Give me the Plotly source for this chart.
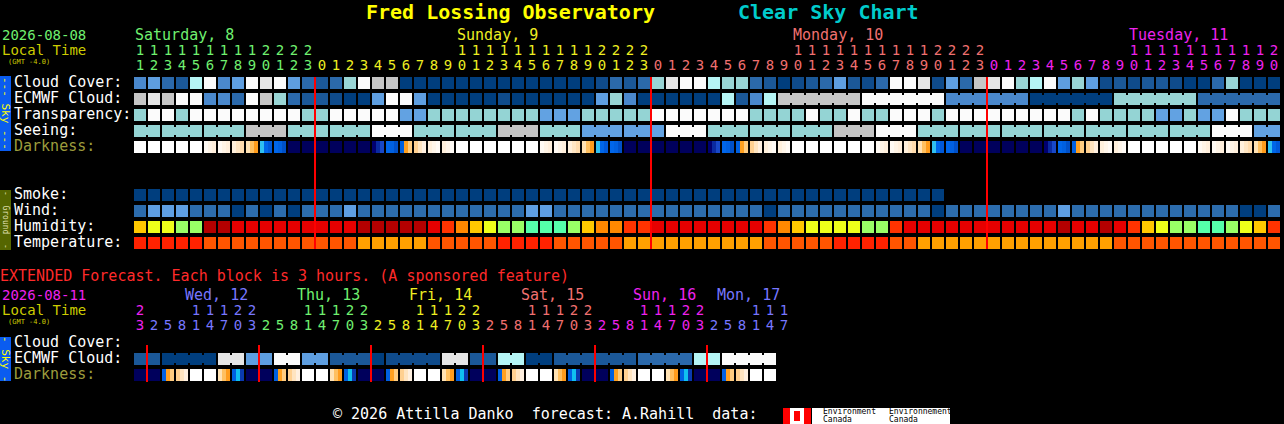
import plotly.graph_objects as go

W, H = 1284, 424
MONO = "DejaVu Sans Mono"

# ---------------------------------------------------------------- main chart
# one block per hour, Saturday 11h .. Tuesday 20h
day_names = ["Saturday, 8", "Sunday, 9", "Monday, 10", "Tuesday, 11"]
day_hours = [list(range(11, 24)), list(range(24)), list(range(24)), list(range(21))]

# cloud cover in tenths of sky covered
cloud_cover = [4, 5, 3, 2, 7, 10, 4, 5, 10, 9, 10, 5, 3, 2,
               3, 6, 10, 8, 8, 0, 0,
               0, 0, 0, 0, 0, 0, 0, 0, 0, 0, 0, 0,
               1, 3, 2, 3,
               6, 9, 10, 10, 7, 6, 6, 3, 2, 0, 1, 2, 3, 5,
               2, 1, 3, 10, 10, 9, 1, 5, 3, 8, 9, 10, 6, 7, 10, 5,
               6, 5, 1, 2, 1, 2, 2, 1, 0, 0, 3, 6, 0, 0, 0]

# ECMWF cloud, hourly first, then one value per 3 hours (from Mon 9h)
ecmwf_hourly = [8, 9, 8, 10, 10, 4, 4, 3, 10, 8, 6, 3, 2, 2,
                1, 0, 0, 5, 10, 10, 5,
                0, 0, 0, 0, 0, 1, 0, 0, 0, 0, 0, 0,
                5, 6, 4, 0, 0, 0, 0, 0, 0, 7, 2, 4, 7]
ecmwf_3h = [8, 8, 10, 10, 4, 4, 0, 0, 6, 6, 3, 3]

# transparency: 1 poor, 2 below average, 3 average, 4 above average, 5 transparent
transparency = [2, 1, 1, 2, 1, 1, 1, 1, 1, 1, 1, 1, 2, 2,
                1, 1, 1, 1, 1, 3, 3,
                2, 2, 2, 2, 2, 2, 2, 2,
                3, 3, 3,
                2, 2, 2, 2, 2,
                1, 1, 1, 1, 1, 1, 1,
                2, 2, 2, 2, 1, 2, 2, 1, 2, 2, 1, 1, 1, 2,
                1, 1, 1, 1, 1, 1, 1, 1, 1,
                2, 1, 2, 2, 2, 2, 3, 3, 2, 3, 3, 1, 2, 2, 2]

# seeing per 3-hour block: 0 too cloudy, 1 bad .. 5 excellent
seeing_3h = [2, 2, 2, 0, 2, 2, 1, 2, 2, 0, 2, 3, 3, 1,
             2, 2, 2, 0, 1, 2, 2, 2, 2, 2, 2, 2, 1, 3]

# darkness: D day, c/e cream, p peach, o sunset, s dusk, b blue,
# n night, g pre-dawn, r sunrise, q after sunrise
darkness = ("DDDDDccposbnnnnnngbrqee"
            "DDDDDDccposbnnnnnngbrqee"
            "DDDDDDccposbnnnnnngbrqee"
            "DDDDDcccpos")

# smoke: 0 = no smoke
smoke = [0, 0, 0, 0, 0, 0, 0, 0, 0, 0, 0, 0, 0, 0, 0, 0, 0, 0, 0, 0,
         0, 0, 0, 0, 0, 0, 0, 0, 0, 0, 0, 0, 0, 0, 0, 0, 0, 0, 0, 0,
         0, 0, 0, 0, 0, 0, 0, 0, 0, 0, 0, 0, 0, 0, 0, 0, 0, 0]

# wind: 0 = 0-5 mph, 1 = 6-11 mph, 2 = 12-16 mph
wind = [1, 2, 2, 2, 1, 1, 1, 0, 1, 0, 1, 0, 1, 1, 1, 2, 1, 1, 1, 1, 1,
        1, 1, 1, 1, 1, 1, 1, 2, 2, 1, 1, 1, 1, 1, 1, 1, 1, 1, 1, 1,
        1, 1, 1, 1, 0, 1, 1, 1, 1, 1,
        1, 1, 1, 1, 1, 1, 0, 1, 1, 1, 1, 1, 1, 1, 1, 2,
        1, 1, 1, 1, 1, 1, 1, 1, 1, 1, 1, 1, 0, 0, 1]

# relative humidity, %
humidity = [73, 68, 68, 63, 63, 93, 93, 88, 88, 88, 88, 88, 88, 88, 88, 88,
            93, 93, 93, 93, 93,
            88, 83, 78, 73, 68, 63, 63, 58, 58, 58, 63, 73, 78, 78, 83,
            83, 88, 88, 88, 88, 88, 88, 88, 88, 83, 78, 73, 68, 68, 68,
            68, 63, 63, 83, 88, 88, 88, 88, 88, 88, 88, 88, 88, 88, 88,
            93, 88, 88, 93, 88, 83, 73, 68, 63, 63, 58, 58, 63, 68, 73, 83]

# temperature, deg C
temperature = [27, 27, 27, 27, 27, 24, 24, 24, 24, 24, 24, 24, 24, 24, 24, 24,
               21, 21, 21, 21, 21,
               24, 24, 24, 24, 24, 27, 27, 27, 27, 24, 24, 24, 24, 24,
               21, 21, 21, 21, 21, 21, 21, 21, 21, 21, 24, 24, 24, 24, 24, 27,
               27, 27, 27, 24, 24, 21, 21, 21, 21, 21, 21, 21, 21, 21, 21,
               21, 21, 21, 21, 24, 24, 24, 24, 24, 24, 24, 24, 24, 24, 24, 24]

# ------------------------------------------------------- extended forecast
ext_day_names = ["Wed, 12", "Thu, 13", "Fri, 14", "Sat, 15", "Sun, 16", "Mon, 17"]
ext_day_hours = [[23],
                 [2, 5, 8, 11, 14, 17, 20, 23],
                 [2, 5, 8, 11, 14, 17, 20, 23],
                 [2, 5, 8, 11, 14, 17, 20, 23],
                 [2, 5, 8, 11, 14, 17, 20, 23],
                 [2, 5, 8, 11, 14, 17, 20, 23],
                 [2, 5, 8, 11, 14, 17]]
ext_ecmwf = [2, 2, 0, 0, 0, 0, 9, 9, 5, 5, 10, 10, 5, 5, 2, 2, 2, 0,
             1, 1, 1, 1, 9, 9, 2, 2, 7, 7, 0, 0, 2, 2, 2, 2, 2, 2,
             3, 3, 3, 3, 7, 7, 10, 10, 10, 10]
ext_darkness = "nnrqDDoSnnrqDDoSnnrqDDoSnnrqDDoSnnrqDDoSnnrqDD"

# ------------------------------------------------------------------ colours
CLOUD = ["#003e7e", "#0f4b8b", "#1b5898", "#2b69ab", "#4a88cc", "#5e9ee0",
         "#99d5d5", "#b5f5f5", "#c6c6c6", "#e6e6e6", "#fbfbfb"]
QUALITY = {0: "#c4c4c4", 1: "#fbfbfb", 2: "#94d4d4", 3: "#62a2e2",
           4: "#2c6cad", 5: "#003e7e"}
WIND = ["#003e7e", "#2c6cad", "#5e9ee2"]
SMOKE = ["#003e7e"]
DARK = {
    "D": ["#ffffff", "#ffffff", "#ffffff"],
    "c": ["#fffaf4", "#fff4e6", "#ffefdc"],
    "e": ["#fff0dc", "#fff6ea", "#fffbf6"],
    "p": ["#fff0dc", "#ffe6c4", "#ffdcae"],
    "o": ["#ffe2b4", "#ffc060", "#ff9c1c"],
    "s": ["#30c0f0", "#0066e8", "#0058d8"],
    "S": ["#0060e0", "#10c0f0", "#0a3ab0"],
    "b": ["#0066ea", "#0060e0", "#0050c8"],
    "n": ["#00005c", "#00005c", "#00005c"],
    "g": ["#000070", "#0a2aa0", "#1848c8"],
    "r": ["#0060e0", "#ffa020", "#ffcc80"],
    "q": ["#ffd090", "#ffe4c0", "#fff0e0"],
}
DAY_COLORS = ["#70f070", "#eeee22", "#f07070", "#ee22ee", "#7777ff"]


def hum_color(h):
    for top, col in [(60, "#55ffaa"), (65, "#99ff66"), (70, "#eeff1a"),
                     (75, "#ffc800"), (80, "#ff8800"), (85, "#ff3300"),
                     (90, "#e60000")]:
        if h < top:
            return col
    return "#b40000"


def temp_color(t):
    if t < 22:
        return "#ffa000"
    if t < 25:
        return "#ff5500"
    return "#ff2200"


def heat(colors, x, y, yaxis, xgap=0, ygap=0):
    pal = sorted({c for row in colors for c in row if c})
    idx = {c: i for i, c in enumerate(pal)}
    z = [[idx[c] if c else None for c in row] for row in colors]
    n = max(len(pal) - 1, 1)
    scale = [[i / n, c] for i, c in enumerate(pal)]
    if len(pal) == 1:
        scale = [[0, pal[0]], [1, pal[0]]]
    return go.Heatmap(z=z, x=x, y=y, colorscale=scale, zmin=0, zmax=n,
                      showscale=False, xgap=xgap, ygap=ygap,
                      hoverinfo="skip", yaxis=yaxis)


def sliced_heat(colors_per_block, row, yaxis):
    # one row of blocks, each block given as a list of slice colours,
    # black gap between blocks
    edges, zc = [-6 / 14], []
    for c, slices in enumerate(colors_per_block):
        k = len(slices)
        edges += [c - 6 / 14 + 12 / 14 * (i + 1) / k for i in range(k)]
        zc += slices
        if c < len(colors_per_block) - 1:
            edges.append(c + 8 / 14)
            zc.append(None)
    return heat([zc], edges, [row - 6 / 16, row + 6 / 16], yaxis)


def connectors(values, row, pairs_ok, colmap, yaxis):
    # little bridges between merged blocks
    segs = {}
    c = 0
    while c < len(values):
        e = c
        while e + 1 < len(values) and values[e + 1] == values[c] and pairs_ok(e):
            e += 1
        if e > c:
            xs, ys = segs.setdefault(colmap[values[c]], ([], []))
            xs += [c, e, None]
            ys += [row, row, None]
        c = e + 1
    return [go.Scatter(x=xs, y=ys, mode="lines", yaxis=yaxis,
                       line=dict(color=col, width=8), hoverinfo="skip")
            for col, (xs, ys) in segs.items()]


# ------------------------------------------------------------ derived data
hours = [h for d in day_hours for h in d]
day_of = [i for i, d in enumerate(day_hours) for _ in d]
ncol = len(hours)
cols = list(range(ncol))

ecmwf = ecmwf_hourly + [v for v in ecmwf_3h for _ in range(3)]
merge_from = len(ecmwf_hourly)

group_of, g = [], 0
for c, h in enumerate(hours):
    if c > 0 and h % 3 == 1:
        g += 1
    group_of.append(g)
seeing = [seeing_3h[k] for k in group_of]

ext_hours = [h for d in ext_day_hours for h in d]
ext_day_of = [i for i, d in enumerate(ext_day_hours) for _ in d]
ext_cols = list(range(len(ext_hours)))
n_ext = len(ext_ecmwf)


def main_y(p):
    return (p - 83) / 16


def ext_y(p):
    return (p - 343) / 16


blank = [None] * ncol
grid = [
    [CLOUD[v] for v in cloud_cover],
    [CLOUD[v] for v in ecmwf],
    [QUALITY[v] for v in transparency],
    [QUALITY[v] for v in seeing],
    blank, blank, blank,
    [SMOKE[v] for v in smoke] + [None] * (ncol - len(smoke)),
    [WIND[v] for v in wind],
    [hum_color(v) for v in humidity],
    [temp_color(v) for v in temperature],
]

fig = go.Figure()
fig.add_trace(heat(grid, cols, list(range(len(grid))), "y", xgap=2, ygap=4))
fig.add_trace(sliced_heat([DARK[k] for k in darkness], 4, "y"))
fig.add_trace(sliced_heat([[CLOUD[v]] for v in ext_ecmwf], 1, "y2"))
fig.add_trace(sliced_heat([DARK[k] for k in ext_darkness[:n_ext]], 2, "y2"))

for tr in connectors(ecmwf, 1, lambda e: e >= merge_from, CLOUD, "y"):
    fig.add_trace(tr)
for tr in connectors(seeing, 3, lambda e: group_of[e] == group_of[e + 1],
                     QUALITY, "y"):
    fig.add_trace(tr)
for tr in connectors(ext_ecmwf, 1, lambda e: True, CLOUD, "y2"):
    fig.add_trace(tr)

# day boundaries
mx, my = [], []
for c, h in enumerate(hours):
    if c > 0 and h == 0:
        mx += [c - 0.5, c - 0.5, None]
        my += [main_y(77), main_y(249), None]
fig.add_trace(go.Scatter(x=mx, y=my, mode="lines", yaxis="y",
                         line=dict(color="#ff0000", width=2), hoverinfo="skip"))
ex, ey = [], []
for c in ext_cols:
    if c > 0 and ext_day_of[c] != ext_day_of[c - 1]:
        ex += [c - 0.5, c - 0.5, None]
        ey += [ext_y(345), ext_y(382), None]
fig.add_trace(go.Scatter(x=ex, y=ey, mode="lines", yaxis="y2",
                         line=dict(color="#ff0000", width=2), hoverinfo="skip"))

# hour digits
main_col_colors = [DAY_COLORS[d % 5] for d in day_of]
ext_col_colors = [DAY_COLORS[(d + 3) % 5] for d in ext_day_of]
for txt, yy, ax, xs, colors in [
    ([str(h // 10) if h >= 10 else "" for h in hours], main_y(51), "y", cols, main_col_colors),
    ([str(h % 10) for h in hours], main_y(66), "y", cols, main_col_colors),
    ([str(h // 10) if h >= 10 else "" for h in ext_hours], ext_y(311), "y2", ext_cols, ext_col_colors),
    ([str(h % 10) for h in ext_hours], ext_y(326), "y2", ext_cols, ext_col_colors),
]:
    fig.add_trace(go.Scatter(x=xs, y=[yy] * len(xs), text=txt, mode="text",
                             yaxis=ax, textposition="middle center",
                             textfont=dict(family=MONO, size=14, color=colors),
                             hoverinfo="skip"))


def label(text, x, y, color, size=15, anchor="left", **kw):
    return dict(text=text, x=x / W, y=1 - y / H, xref="paper", yref="paper",
                xanchor=anchor, yanchor="middle", showarrow=False,
                borderpad=0, borderwidth=0,
                font=dict(family=MONO, size=size, color=color), **kw)


ann = [
    label("<b>Fred Lossing Observatory</b>", 366, 12, "#ffff00", size=20),
    label("<b>Clear Sky Chart</b>", 738, 12, "#00cccc", size=20),
    label("2026-08-08", 2, 35, DAY_COLORS[0], size=14),
    label("Local Time", 2, 50, "#cccc00", size=14),
    label("(GMT -4.0)", 8, 62, "#cccc00", size=7),
    label("EXTENDED Forecast. Each block is 3 hours. (A sponsored feature)",
          0, 276, "#ff2a2a"),
    label("2026-08-11", 2, 295, DAY_COLORS[3], size=14),
    label("Local Time", 2, 310, "#cccc00", size=14),
    label("(GMT -4.0)", 8, 322, "#cccc00", size=7),
    label("©\u00a02026\u00a0Attilla\u00a0Danko\u00a0\u00a0forecast:\u00a0A.Rahill\u00a0\u00a0data:",
          333, 414, "#ffffff"),
    label("Environment", 823, 411, "#000000", size=8),
    label("Canada", 823, 419, "#000000", size=8),
    label("Environnement", 889, 411, "#000000", size=8),
    label("Canada", 889, 419, "#000000", size=8),
    label("--- Sky ---", 6, 113, "#ffff00", size=11, anchor="center", textangle=90),
    label("-\u00a0\u00a0Ground\u00a0\u00a0-", 6, 220, "#e0e0b0", size=8, anchor="center", textangle=90),
    label("- Sky -", 6, 359, "#ffff00", size=11, anchor="center", textangle=90),
]
for name, y in [("Cloud Cover:", 82), ("ECMWF Cloud:", 98), ("Transparency:", 114),
                ("Seeing:", 130), ("Smoke:", 194), ("Wind:", 210),
                ("Humidity:", 226), ("Temperature:", 242),
                ("Cloud Cover:", 342), ("ECMWF Cloud:", 358)]:
    ann.append(label(name, 14, y, "#ffffff"))
ann.append(label("Darkness:", 14, 146, "#9c9c3c"))
ann.append(label("Darkness:", 14, 374, "#9c9c3c"))

# day names: main at the 10h block, extended a little inside each day
for d, name in enumerate(day_names):
    c = next((k for k, h in enumerate(hours) if day_of[k] == d and h == 10),
             day_of.index(d))
    ann.append(dict(text=name, x=c - 6 / 14 + 1 / 14, y=1 - 35 / H, xref="x",
                    yref="paper", xanchor="left", yanchor="middle",
                    showarrow=False, borderpad=0, borderwidth=0,
                    font=dict(family=MONO, size=15, color=DAY_COLORS[d % 5])))
for d, name in enumerate(ext_day_names, start=1):
    c = ext_day_of.index(d)
    left = min(c - 6 / 14 + 37 / 14, n_ext - 1 + 6 / 14 - 9 * len(name) / 14 + 4 / 14)
    ann.append(dict(text=name, x=left, y=1 - 295 / H, xref="x", yref="paper",
                    xanchor="left", yanchor="middle", showarrow=False,
                    borderpad=0, borderwidth=0,
                    font=dict(family=MONO, size=15, color=DAY_COLORS[(d + 3) % 5])))


def box(x0, x1, y0, y1, color):
    return dict(type="rect", xref="paper", yref="paper", x0=x0 / W, x1=x1 / W,
                y0=1 - y1 / H, y1=1 - y0 / H, fillcolor=color, line=dict(width=0),
                layer="below")


shapes = [
    box(0, 11, 76, 151, "#0a5cf0"),
    box(0, 11, 190, 250, "#556600"),
    box(0, 11, 337, 381, "#0a5cf0"),
    box(783, 811, 408, 424, "#ffffff"),
    box(783, 790, 408, 424, "#ff0000"),
    box(804, 811, 408, 424, "#ff0000"),
    box(794, 800, 411, 421, "#ff0000"),
    box(812, 950, 408, 424, "#ffffff"),
]

fig.update_layout(
    width=W, height=H, margin=dict(l=0, r=0, t=0, b=0),
    paper_bgcolor="#000000", plot_bgcolor="#000000",
    showlegend=False, annotations=ann, shapes=shapes,
    xaxis=dict(range=[-140 / 14, (W - 140) / 14], visible=False, fixedrange=True),
    yaxis=dict(range=[main_y(H), main_y(0)], visible=False, fixedrange=True),
    yaxis2=dict(range=[ext_y(H), ext_y(0)], visible=False, overlaying="y",
                anchor="x", fixedrange=True),
)

fig.write_html("out.html", config={"displayModeBar": False},
               post_script="document.body.style.margin='0';"
                           "document.body.style.background='#000';")
